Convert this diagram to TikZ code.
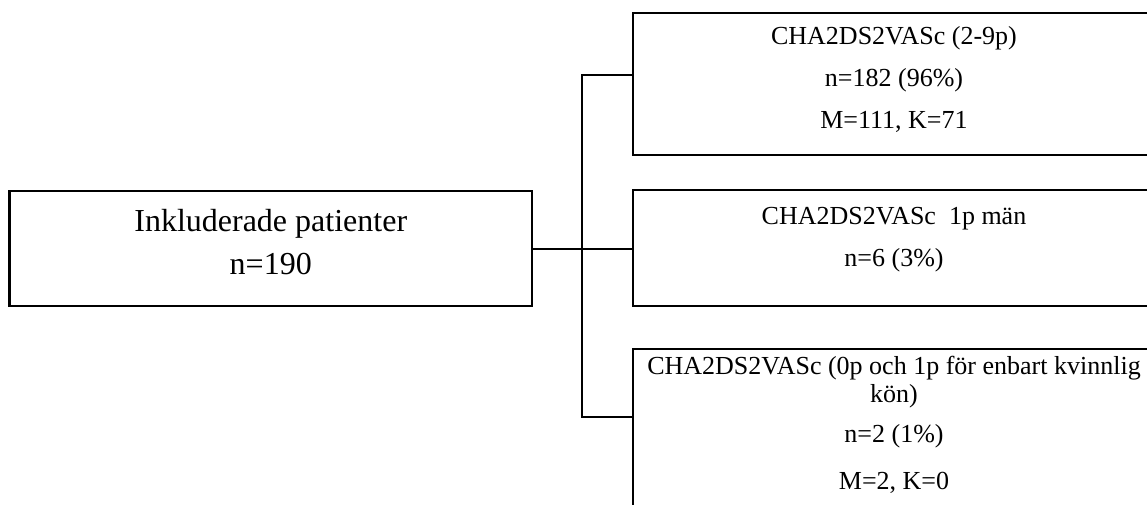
\documentclass[tikz,border=0pt]{standalone}
\usepackage{fontspec}
\setmainfont{Liberation Serif}
\usepackage{tikz}
\usetikzlibrary{positioning}
\tikzset{
  box/.style={draw, line width=2.2pt, inner sep=0pt, text width=522pt, align=flush center, anchor=north},
  rfont/.style={font=\fontsize{26pt}{42pt}\selectfont},
  link/.style={line width=2.2pt}
}

\begin{document}
\begin{tikzpicture}[x=1pt, y=-1pt]
\useasboundingbox (0,0) rectangle (1147,504);
\clip (0,0) rectangle (1147,504);
% left box
\node[box, font=\fontsize{32pt}{43pt}\selectfont, text width=522.5pt] (incl) at (270.75,190)
  {\rule{0pt}{40pt}Inkluderade patienter\\n=190\rule[-32pt]{0pt}{32pt}};
% right boxes
\node[box, rfont] (high) at (894,12)
  {\rule{0pt}{31pt}CHA2DS2VASc (2-9p)\\n=182 (96\%)\\M=111, K=71\rule[-27pt]{0pt}{27pt}};
\node[box, rfont] (mid) at (894,189)
  {\rule{0pt}{34pt}CHA2DS2VASc\ \ 1p män\\n=6 (3\%)\rule[-40pt]{0pt}{40pt}};
\node[box, font=\fontsize{26pt}{28pt}\selectfont] (low) at (894,348)
  {\rule{0pt}{25pt}CHA2DS2VASc (0p och 1p för enbart kvinnlig\\kön)\\[12pt]n=2 (1\%)\\[19pt]M=2, K=0\rule[-30pt]{0pt}{30pt}};
% fork
\coordinate (up) at (582,75);
\coordinate (down) at (582,417);
\coordinate (fork) at (incl.east -| up);
\draw[link] (incl.east) -- (fork) -- (fork -| mid.west);
\draw[link] (up -| high.west) -- (up) -- (down) -- (down -| low.west);
\end{tikzpicture}
\end{document}
